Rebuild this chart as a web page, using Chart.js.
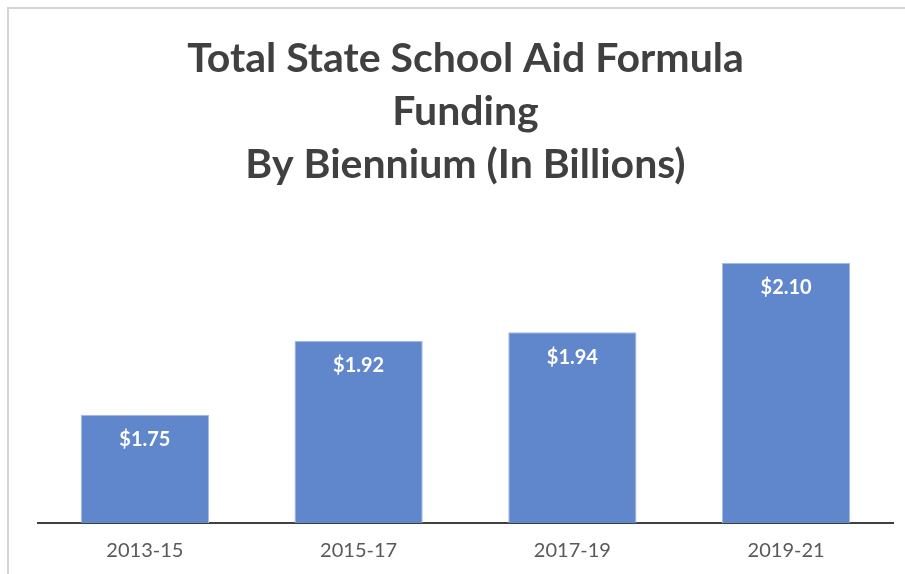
<!DOCTYPE html>
<html>
<head>
<meta charset="utf-8">
<script src="https://cdn.jsdelivr.net/npm/chart.js@4/dist/chart.umd.min.js"></script>
<style>
  html, body { margin: 0; padding: 0; background: #fff; }
  #wrap { position: relative; width: 905px; height: 574px; overflow: hidden; }
  #frame { position: absolute; left: 7px; top: 7px; width: 1000px; height: 1000px;
           border-top: 2px solid #d4d4d4; border-left: 2px solid #d4d4d4; }
  canvas { position: absolute; left: 0; top: 0; }
</style>
</head>
<body>
<div id="wrap">
  <div id="frame"></div>
  <canvas id="c" width="905" height="574"></canvas>
</div>
<script>
const categories = ["2013-15", "2015-17", "2017-19", "2019-21"];
const funding = [1.75, 1.92, 1.94, 2.10];
const titleLines = ["Total State School Aid Formula", "Funding", "By Biennium (In Billions)"];

const barLabels = {
  id: 'barLabels',
  afterDatasetsDraw(chart) {
    const ctx = chart.ctx;
    const meta = chart.getDatasetMeta(0);
    ctx.save();
    ctx.font = 'bold 20px Lato';
    ctx.fillStyle = '#ffffff';
    ctx.textAlign = 'center';
    ctx.textBaseline = 'middle';
    meta.data.forEach((bar, i) => {
      const v = chart.data.datasets[0].data[i];
      ctx.fillText('$' + v.toFixed(2), bar.x, bar.y + 25);
    });
    ctx.restore();
  }
};

new Chart(document.getElementById('c'), {
  type: 'bar',
  data: {
    labels: categories,
    datasets: [{
      data: funding,
      backgroundColor: '#6086cc',
      borderColor: '#a3bbe8',
      borderWidth: 1,
      barPercentage: 0.6,
      categoryPercentage: 1.0
    }]
  },
  options: {
    responsive: false,
    animation: false,
    layout: { padding: { left: 38, right: 12, top: 0, bottom: -5 } },
    plugins: {
      legend: { display: false },
      tooltip: { enabled: false },
      title: {
        display: true,
        text: titleLines,
        color: '#404040',
        font: { family: 'Lato', size: 41, weight: 'bold', lineHeight: 53 / 41 },
        padding: { top: 32, bottom: 7 }
      }
    },
    scales: {
      x: {
        grid: { display: false, drawTicks: false },
        border: { display: true, color: '#404040', width: 2 },
        ticks: { color: '#595959', font: { family: 'Lato', size: 20 }, padding: 16 }
      },
      y: {
        display: false,
        min: 1.5,
        max: 2.25
      }
    }
  },
  plugins: [barLabels]
});
</script>
</body>
</html>
